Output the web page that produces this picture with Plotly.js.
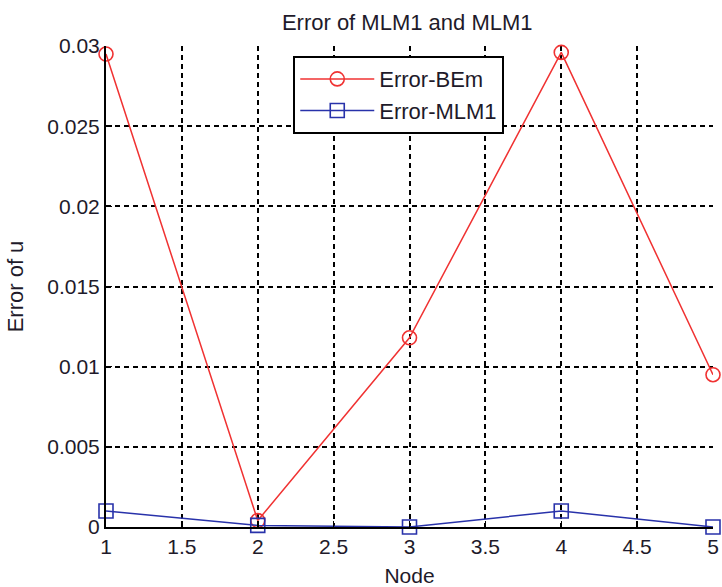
<!DOCTYPE html>
<html>
<head>
<meta charset="utf-8">
<script src="https://cdn.plot.ly/plotly-3.0.1.min.js"></script>
<style>
html,body{margin:0;padding:0;background:#fff;}
#chart{width:722px;height:587px;}
</style>
</head>
<body>
<div id="chart"></div>
<script>
// Data
const nodes = [1, 2, 3, 4, 5];
const errorBEm = [0.0295, 0.0004, 0.0118, 0.0296, 0.0095];
const errorMLM1 = [0.0010, 0.0001, 0.0000, 0.0010, 0.0000];
const seriesNames = ['Error-BEm', 'Error-MLM1'];
const chartTitle = 'Error of MLM1 and MLM1';
const xTitle = 'Node';
const yTitle = 'Error of u';

const FONT = 'Liberation Sans, Arial, sans-serif';
const TXT = '#1e1a2a';

const traces = [
  {
    x: nodes, y: errorBEm, name: seriesNames[0], type: 'scatter', mode: 'lines+markers',
    line: {color: 'rgb(240,50,50)', width: 1.5},
    marker: {symbol: 'circle-open', size: 14, color: 'rgb(240,50,50)', line: {width: 1.6, color: 'rgb(240,50,50)'}},
    cliponaxis: false
  },
  {
    x: nodes, y: errorMLM1, name: seriesNames[1], type: 'scatter', mode: 'lines+markers',
    line: {color: 'rgb(40,50,170)', width: 1.5},
    marker: {symbol: 'square-open', size: 14, color: 'rgb(40,50,170)', line: {width: 1.6, color: 'rgb(40,50,170)'}},
    cliponaxis: false
  }
];

const layout = {
  width: 722, height: 587,
  margin: {l: 106, r: 9, t: 46, b: 60},
  paper_bgcolor: '#fff', plot_bgcolor: '#fff',
  font: {family: FONT, color: TXT, size: 21},
  showlegend: true,
  title: {text: chartTitle, font: {family: FONT, size: 22, color: TXT}, x: 0.564, xanchor: 'center', y: 0.962, yanchor: 'middle'},
  xaxis: {
    range: [1, 5], dtick: 0.5, tick0: 1,
    showgrid: true, gridcolor: '#000', griddash: '5px,4px', gridwidth: 2,
    zeroline: false, showline: true, linecolor: '#000', linewidth: 2, mirror: false,
    ticks: 'inside', ticklen: 6, tickcolor: '#000', tickwidth: 1.5,
    tickfont: {family: FONT, size: 21, color: TXT},
    ticklabeloverflow: 'allow',
    title: {text: xTitle, font: {family: FONT, size: 21, color: TXT}, standoff: 16},
    automargin: false
  },
  yaxis: {
    range: [0, 0.03], dtick: 0.005, tick0: 0,
    showgrid: true, gridcolor: '#000', griddash: '5px,4px', gridwidth: 2,
    zeroline: false, showline: true, linecolor: '#000', linewidth: 2, mirror: false,
    ticks: 'inside', ticklen: 6, tickcolor: '#000', tickwidth: 1.5,
    tickfont: {family: FONT, size: 21, color: TXT},
    ticklabeloverflow: 'allow',
    title: {text: yTitle, font: {family: FONT, size: 22, color: TXT}, standoff: 18},
    automargin: false
  },
  legend: {
    x: 0.3085, y: 0.979, xanchor: 'left', yanchor: 'top',
    bgcolor: '#fff', bordercolor: '#000', borderwidth: 2,
    font: {family: FONT, size: 22, color: TXT},
    itemwidth: 74, tracegroupgap: 0
  }
};

Plotly.newPlot('chart', traces, layout, {displayModeBar: false, staticPlot: true});
</script>
</body>
</html>
